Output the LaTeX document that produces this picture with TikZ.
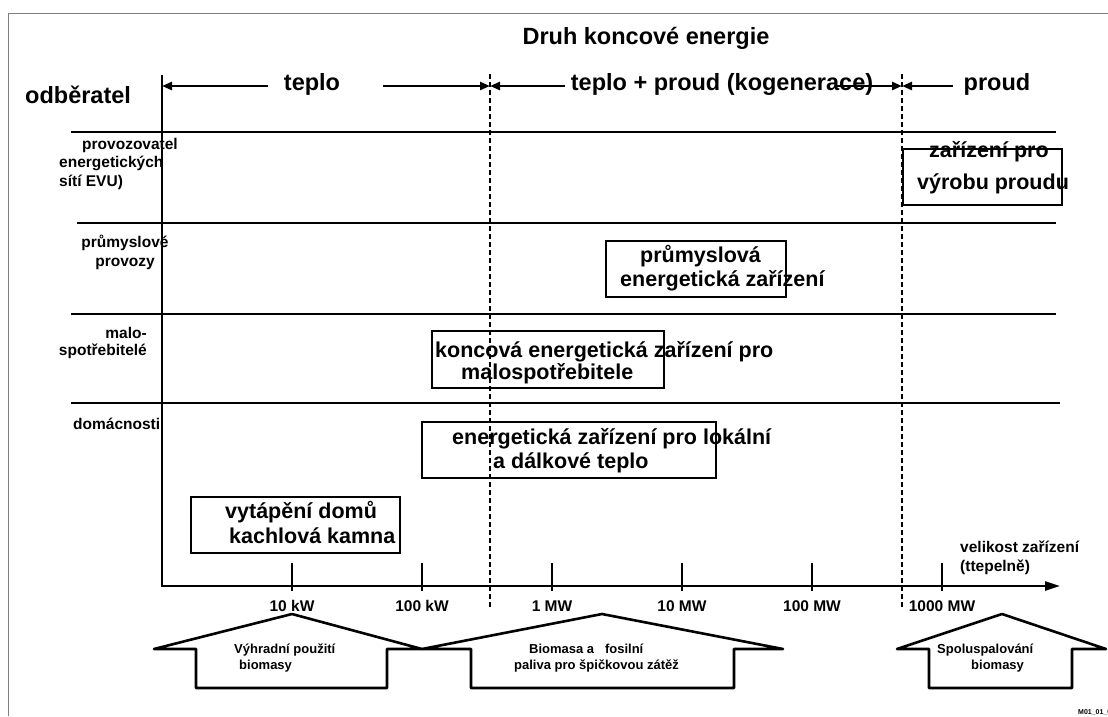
\documentclass[tikz,border=0pt]{standalone}
\usepackage{fontspec}
\setmainfont{Liberation Sans}
\usetikzlibrary{arrows.meta, positioning}

\begin{document}
\begin{tikzpicture}[
  x=1pt, y=-1pt,
  band/.style={line width=2.6pt},
  divider/.style={line width=1.3pt, dash pattern=on 5pt off 3pt},
  span/.style={line width=2.6pt, -{Triangle[length=10pt, width=8pt]}},
  axis/.style={line width=2.6pt, -{Triangle[length=15pt, width=9pt]}},
  tk/.style={line width=2.6pt},
  box/.style={draw, line width=2.6pt, inner sep=0pt},
  big/.style={font=\fontsize{23.5}{26}\selectfont\bfseries, inner sep=0pt, anchor=base},
  btxt/.style={font=\fontsize{21.5}{23.5}\selectfont\bfseries, inner sep=0pt, align=left, anchor=base west},
  sm/.style={font=\fontsize{15.5}{18.5}\selectfont\bfseries, inner sep=0pt},
  hs/.style={font=\fontsize{13}{16.5}\selectfont\bfseries, inner sep=0pt, align=left, anchor=base west},
  house/.style={line width=2.6pt, line join=round}
]
\useasboundingbox (0,0) rectangle (1108,716);
\draw[gray, line width=1pt] (1108,13) -- (8,13) -- (8,716);

\coordinate (otop) at (162,75);
\coordinate (orig) at (162,586);
\coordinate (xend) at (1060,586);
\coordinate (d1top) at (490,74);
\coordinate (d1bot) at (490,609);
\coordinate (d2top) at (902,74);
\coordinate (d2bot) at (902,609);

\node[big] (title) at (646,44) {Druh koncové energie};
\node[big, anchor=base west] (odb) at (25,103) {odběratel};
\node[big] (teplo) at (312,90) {teplo};
\node[big] (kog) at (722,90) {teplo + proud (kogenerace)};
\node[big] (proud) at (997,90) {proud};

\draw[band] (71,132) -- (1056,132);
\draw[band] (77,223) -- (1056,223);
\draw[band] (71,314) -- (1056,314);
\draw[band] (71,403) -- (1060,403);

\draw[divider] (d1top) -- (d1bot);
\draw[divider] (d2top) -- (d2bot);
\draw[axis] (otop) -- (orig) -- (xend);

\path (268,86) coordinate (h1) (383,86) coordinate (h2) (565,86) coordinate (k1)
  (836,86) coordinate (k2) (953,86) coordinate (p1);
\draw[span] (h1) -- (otop |- h1);
\draw[span] (h2) -- (d1top |- h2);
\draw[span] (k1) -- (d1top |- k1);
\draw[span] (k2) -- (d2top |- k2);
\draw[span] (p1) -- (d2top |- p1);

\node[sm, align=left, anchor=base west] (evu) at (59,186) {\hspace*{23pt}provozovatel\\energetických\\sítí EVU)};
\node[sm, align=center, anchor=base] (prumysl) at (125,266) {průmyslové\\provozy};
\node[sm, align=right, anchor=base east] (malo) at (147,355) {malo-\\[-1.5pt]spotřebitelé};
\node[sm, anchor=base west] (domac) at (73,429) {domácnosti};

\node[box, minimum width=159pt, minimum height=56pt] (vyroba) at (982.5,177) {};
\node[box, minimum width=180pt, minimum height=56pt] (prumbox) at (696,269) {};
\node[box, minimum width=232pt, minimum height=57pt] (koncbox) at (548,359.5) {};
\node[box, minimum width=294pt, minimum height=56pt] (lokbox) at (569,450) {};
\node[box, minimum width=209pt, minimum height=56pt] (vytbox) at (295.5,525) {};

\node[btxt] (vyrobatxt) at (917,189) {\hspace*{12pt}zařízení pro\\[8.5pt]výrobu proudu};
\node[btxt] (prumtxt) at (620,286) {\hspace*{20pt}průmyslová\\energetická zařízení};
\node[btxt] (konctxt) at (435,379) {koncová energetická zařízení pro\\[-1.5pt]\hspace*{26pt}malospotřebitele};
\node[btxt] (loktxt) at (452,468) {energetická zařízení pro lokální\\\hspace*{41pt}a dálkové teplo};
\node[btxt] (vyttxt) at (225,543) {vytápění domů\\[1.5pt]\hspace*{4pt}kachlová kamna};

\foreach \x/\v in {292/10 kW, 422/100 kW, 552/1 MW, 682/10 MW, 812/100 MW, 942/1000 MW} {
  \draw[tk] (\x,563) -- (\x,591);
  \node[sm, anchor=base] (lab\x) at (\x,611) {\v};
}
\node[sm, align=left, anchor=base west] (velik) at (960,571) {velikost zařízení\\(ttepelně)};

\draw[house] (154,649) -- (196,649) -- (196,688) -- (387,688) -- (387,649) -- (422,649) -- (292,614) -- cycle;
\draw[house] (422,649) -- (471,649) -- (471,688) -- (734,688) -- (734,649) -- (783,649) -- (602,614) -- cycle;
\draw[house] (897,649) -- (929,649) -- (929,688) -- (1072,688) -- (1072,649) -- (1106,649) -- (1002,614) -- cycle;

\node[hs] (vyhr) at (234,669.5) {Výhradní použití\\\hspace*{5pt}biomasy};
\node[hs] (fosil) at (514,669.5) {\hspace*{15pt}Biomasa a\ \ \ fosilní\\paliva pro špičkovou zátěž};
\node[hs] (spolu) at (937,669.5) {Spoluspalování\\\hspace*{34pt}biomasy};

\node[font=\fontsize{7}{8}\selectfont\bfseries, inner sep=0pt, anchor=base west] (mcode) at (1078,714) {M01\_01\_0};
\end{tikzpicture}
\end{document}
